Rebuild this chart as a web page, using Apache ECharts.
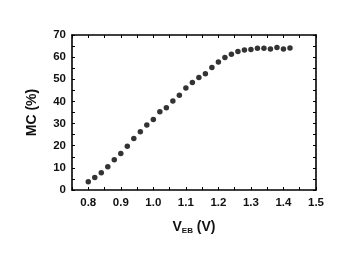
<!DOCTYPE html>
<html><head><meta charset="utf-8">
<script src="https://cdn.jsdelivr.net/npm/echarts@6/dist/echarts.min.js"></script>
<style>html,body{margin:0;padding:0;background:#fff}#c{width:350px;height:258px}</style>
</head><body><div id="c"></div>
<script>
const vEB = [0.80,0.82,0.84,0.86,0.88,0.90,0.92,0.94,0.96,0.98,1.00,1.02,1.04,1.06,1.08,1.10,1.12,1.14,1.16,1.18,1.20,1.22,1.24,1.26,1.28,1.30,1.32,1.34,1.36,1.38,1.40,1.42];
const mc = [3.7,5.7,7.8,10.5,13.7,16.5,19.8,23.3,26.3,29.3,31.8,35.3,37.2,40.2,42.8,46.1,48.5,50.8,52.5,55.3,57.8,59.8,61.3,62.6,63.2,63.5,64.0,64.0,63.7,64.3,63.7,64.1];
const xTicks = [0.8,0.9,1.0,1.1,1.2,1.3,1.4,1.5];
const yTicks = [0,10,20,30,40,50,60,70];

const font = 'Liberation Sans';
const lineStyle = {color:'#000', width:1.6};
function xAx(pos, labels){
  return {type:'value', position:pos, min:0.75, max:1.5, interval:0.05,
    axisLine:{show:true, onZero:false, lineStyle},
    axisTick:{show:true, inside:true, length:3, lineStyle:{color:'#000'}},
    splitLine:{show:false},
    axisLabel:{show:labels, color:'#111', fontFamily:font, fontSize:11.5, fontWeight:'bold', margin:7,
      formatter:v=>{const r=Math.round(v*100)/100; return xTicks.some(t=>Math.abs(t-r)<1e-6)? r.toFixed(1):'';}}};
}
function yAx(pos, labels){
  return {type:'value', position:pos, min:0, max:70, interval:5,
    axisLine:{show:true, onZero:false, lineStyle},
    axisTick:{show:true, inside:true, length:3, lineStyle:{color:'#000'}},
    splitLine:{show:false},
    axisLabel:{show:labels, color:'#111', fontFamily:font, fontSize:11.5, fontWeight:'bold', margin:6,
      formatter:v=> yTicks.includes(v)? String(v):''}};
}
const x1 = xAx('bottom', true);
x1.name = '{a|V}{b|EB}{a| (V)}';
x1.nameLocation = 'middle'; x1.nameGap = 30;
x1.nameTextStyle = {rich:{a:{fontFamily:font,fontSize:14,fontWeight:'bold',color:'#111'},b:{fontFamily:font,fontSize:8,fontWeight:'bold',color:'#111',padding:[7,0,0,0]}}};
const y1 = yAx('left', true);
y1.name = 'MC (%)'; y1.nameLocation='middle'; y1.nameGap=33;
y1.nameTextStyle = {fontFamily:font,fontSize:14,fontWeight:'bold',color:'#111'};

const chart = echarts.init(document.getElementById('c'), null, {renderer:'canvas'});
chart.setOption({
  animation:false,
  backgroundColor:'#fff',
  grid:{left:72, right:34, top:35, bottom:68},
  xAxis:[x1, xAx('top', false)],
  yAxis:[y1, yAx('right', false)],
  series:[{type:'scatter', xAxisIndex:0, yAxisIndex:0, symbol:'circle', symbolSize:5.5,
    itemStyle:{color:'#000'}, data: vEB.map((v,i)=>[v, mc[i]])}]
});
</script></body></html>
